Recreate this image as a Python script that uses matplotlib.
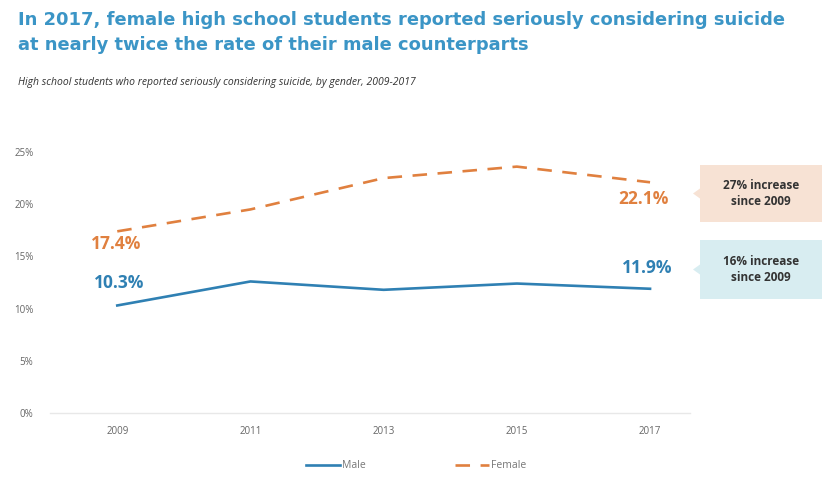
import matplotlib
matplotlib.use("Agg")
import matplotlib.pyplot as plt
from matplotlib.patches import FancyBboxPatch, Polygon

plt.rcParams['font.family'] = ['Open Sans', 'DejaVu Sans']

years = [2009, 2011, 2013, 2015, 2017]
male = [10.3, 12.6, 11.8, 12.4, 11.9]
female = [17.4, 19.5, 22.5, 23.6, 22.1]
yticks = [0, 5, 10, 15, 20, 25]
male_note = "16% increase\nsince 2009"
female_note = "27% increase\nsince 2009"

blue = '#2f80b3'
orange = '#e0803f'
title_blue = '#3b95c6'

fig = plt.figure(figsize=(8.25, 4.92), dpi=100)
W, H = 825, 492

def fx(px):
    return px / W

def fy(py):
    return 1 - py / H

ax = fig.add_axes([fx(50), fy(413), fx(640), 261 / H])

ax.plot(years, male, color=blue, lw=1.9, label='Male')
ax.plot(years, female, color=orange, lw=1.9, ls=(0, (5.5, 4)), label='Female')

ax.set_xlim(2007.99, 2017.6)
ax.set_ylim(0, 25)
ax.set_yticks(yticks)
ax.set_yticklabels([f"{v}%" for v in yticks])
ax.set_xticks(years)
ax.tick_params(length=0, labelsize=7, colors='#666666')
ax.tick_params(axis='y', pad=12)
ax.tick_params(axis='x', pad=9)
for s in ['top', 'right', 'left']:
    ax.spines[s].set_visible(False)
ax.spines['bottom'].set_color('#e8e8e8')
ax.spines['bottom'].set_linewidth(1)

# end-point value labels
lab = dict(textcoords='offset points', ha='center', va='center',
           fontsize=12.5, fontweight='bold')
ax.annotate(f"{female[0]}%", (years[0], female[0]), xytext=(-1, -9), color=orange, **lab)
ax.annotate(f"{male[0]}%", (years[0], male[0]), xytext=(1, 16), color=blue, **lab)
ax.annotate(f"{female[-1]}%", (years[-1], female[-1]), xytext=(-5, -12), color=orange, **lab)
ax.annotate(f"{male[-1]}%", (years[-1], male[-1]), xytext=(-2, 15), color=blue, **lab)

# callout boxes
for (y0, y1, fc, txt) in [(165, 222, '#f7e2d4', female_note),
                          (240, 299, '#d8edf1', male_note)]:
    fig.patches.append(FancyBboxPatch((fx(700), fy(y1)), fx(122), (y1 - y0) / H,
                                      boxstyle='square,pad=0', transform=fig.transFigure,
                                      fc=fc, ec='none'))
    ym = (y0 + y1) / 2
    fig.patches.append(Polygon([(fx(700), fy(ym - 5)), (fx(693), fy(ym)), (fx(700), fy(ym + 5))],
                               closed=True, transform=fig.transFigure, fc=fc, ec='none'))
    fig.text(fx(761), fy(ym), txt, ha='center', va='center', fontsize=8.5,
             fontweight='bold', color='#333333', linespacing=1.3)

title_kw = dict(ha='left', va='center', fontsize=12.9, fontweight='bold',
                color=title_blue, family=['DejaVu Sans'])
fig.text(fx(18), fy(20), "In 2017, female high school students reported seriously considering suicide",
         **title_kw)
fig.text(fx(18), fy(45), "at nearly twice the rate of their male counterparts", **title_kw)
fig.text(fx(18), fy(83), "High school students who reported seriously considering suicide, by gender, 2009-2017",
         ha='left', va='center', fontsize=7.5, style='italic', color='#333333')

fig.legend(loc='center', bbox_to_anchor=(fx(416), fy(466)), ncol=2, frameon=False,
           fontsize=7.5, handlelength=3.3, handletextpad=0.2, columnspacing=8.5,
           labelcolor='#777777')

fig.savefig('out.png', dpi=100, facecolor='white')
